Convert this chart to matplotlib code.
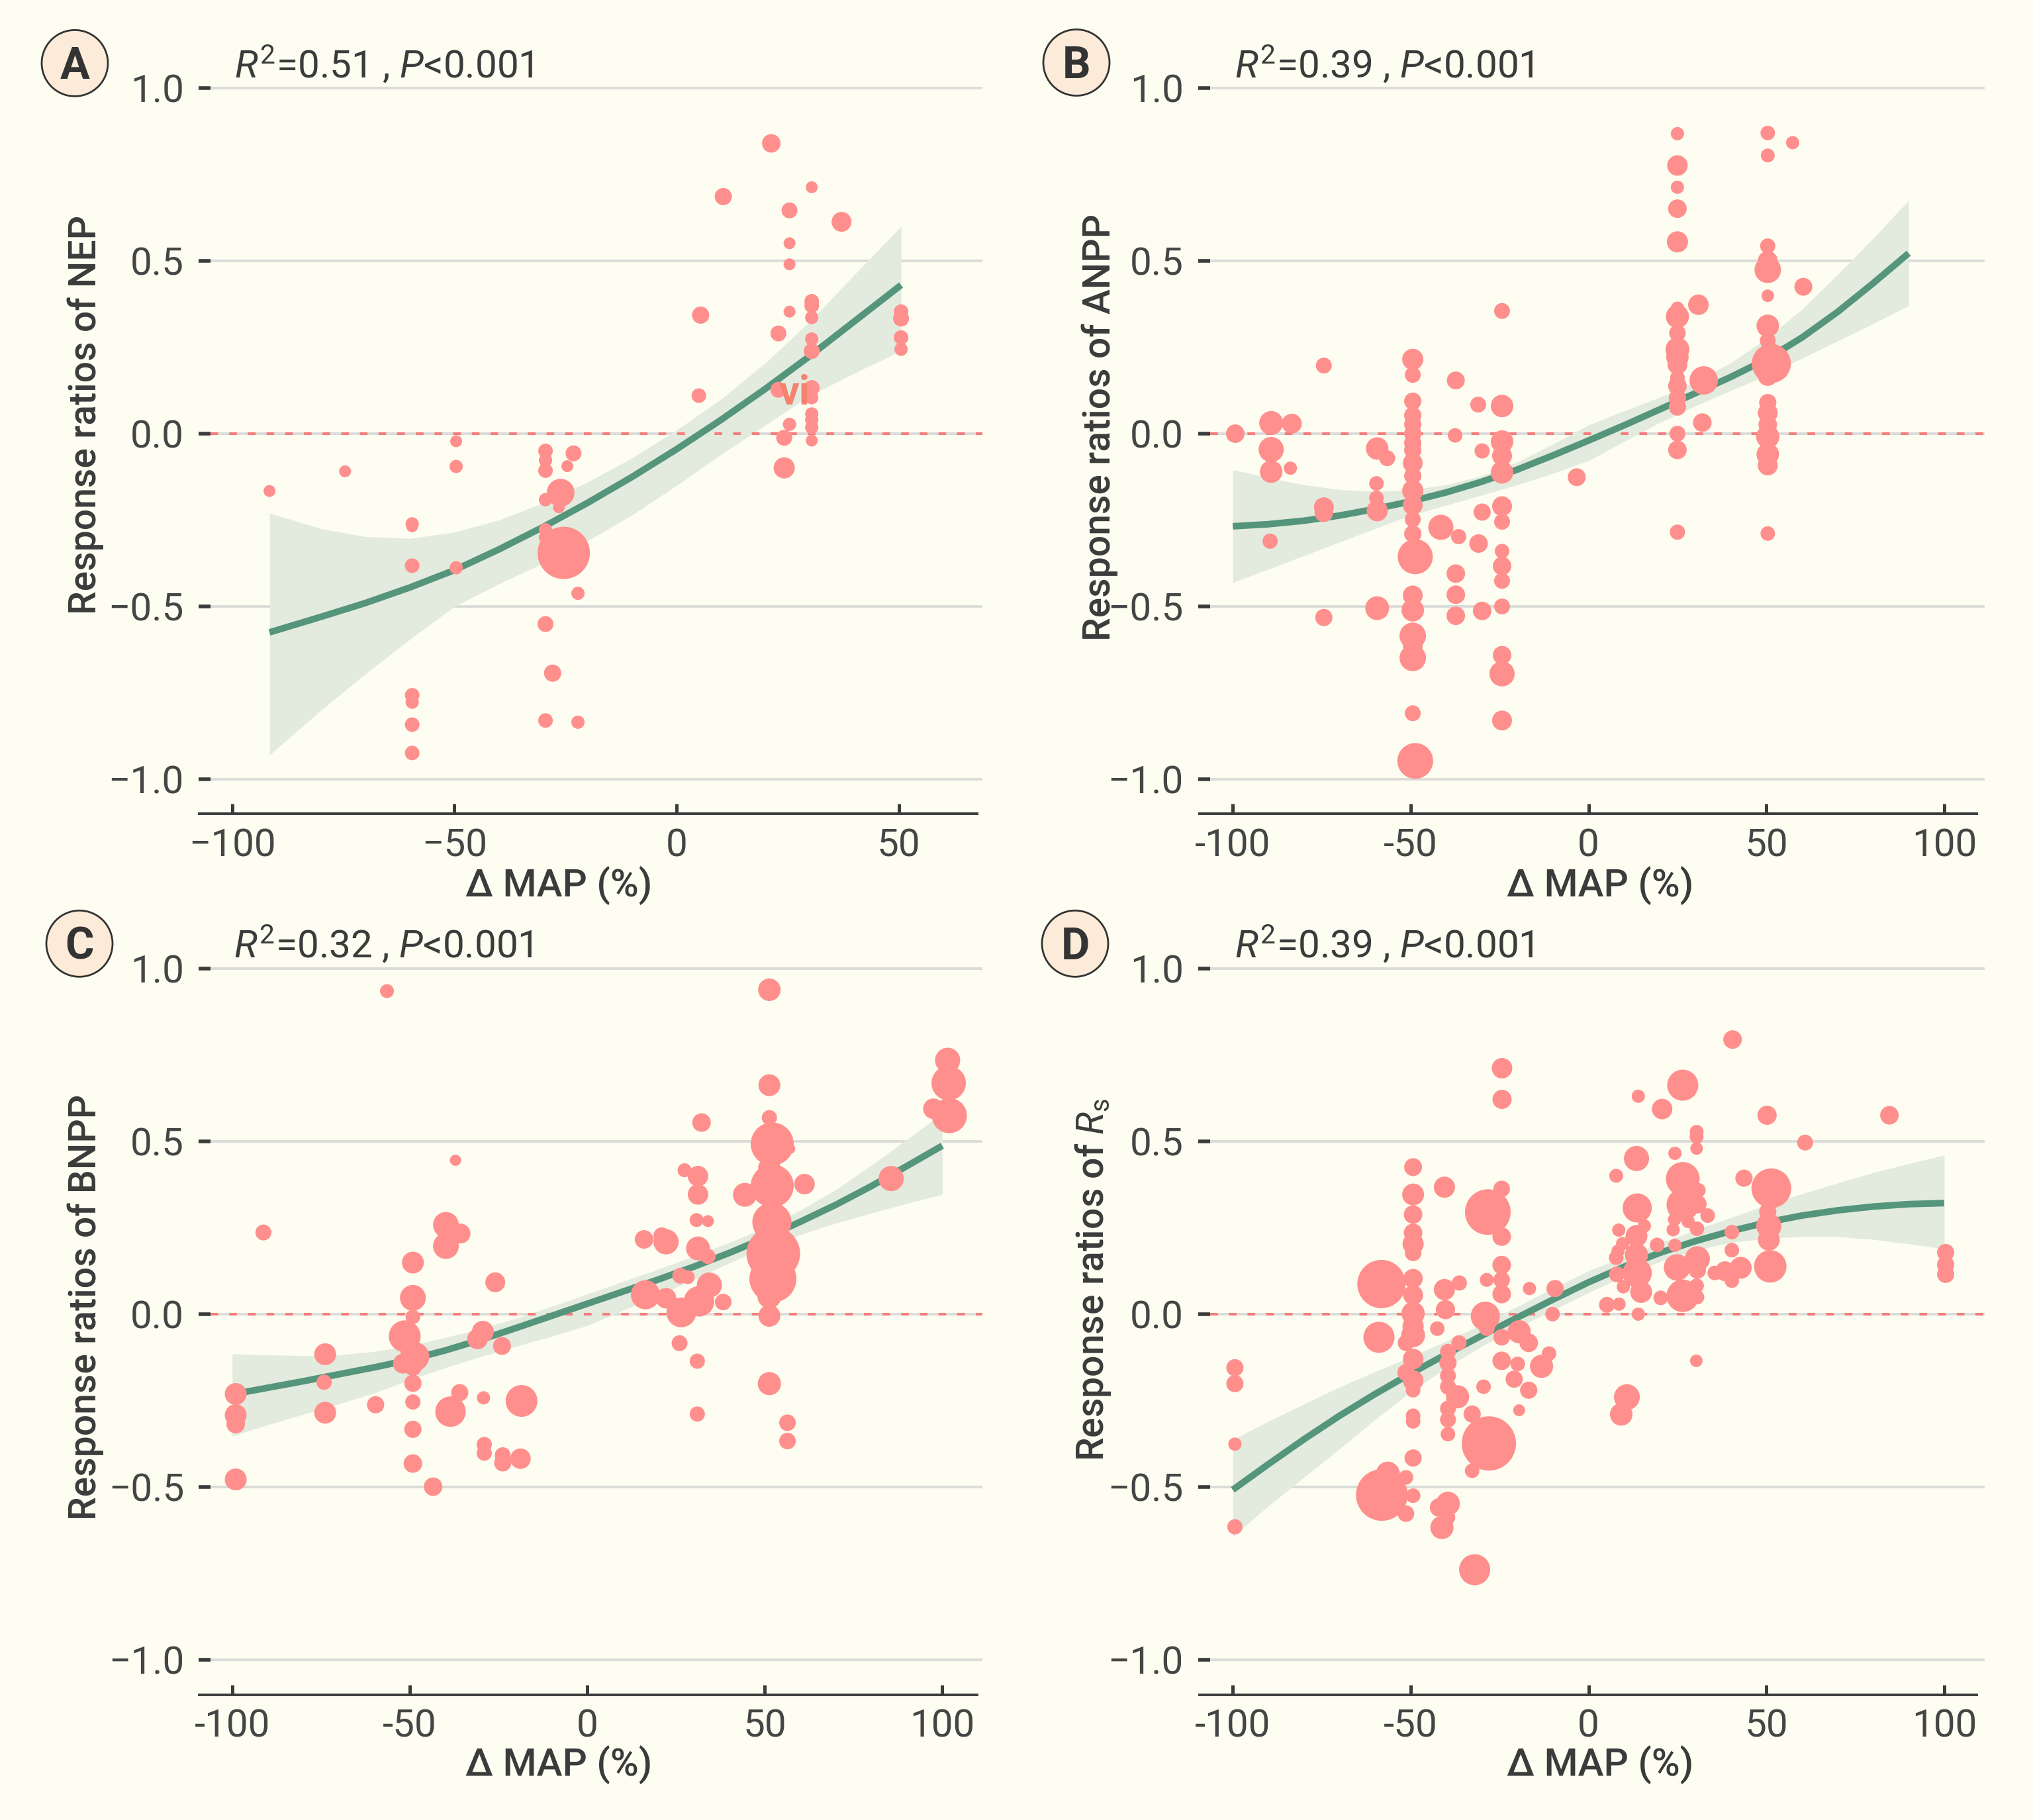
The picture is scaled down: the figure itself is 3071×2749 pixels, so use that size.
import numpy as np
import matplotlib
matplotlib.use("Agg")
import matplotlib.pyplot as plt
from matplotlib.patches import Circle

plt.rcParams['font.family'] = ['Roboto', 'DejaVu Sans']
plt.rcParams['mathtext.fontset'] = 'custom'
plt.rcParams['mathtext.rm'] = 'Roboto'
plt.rcParams['mathtext.it'] = 'Roboto:italic'
plt.rcParams['mathtext.bf'] = 'Roboto:bold'

# ---------------- data ----------------
y_ticks = [-1.0, -0.5, 0.0, 0.5, 1.0]
y_ticklabels = ["\u22121.0", "\u22120.5", "0.0", "0.5", "1.0"]
a_xticks = [-100, -50, 0, 50]
a_xticklabels = ["\u2212100", "\u221250", "0", "50"]
xticks = [-100, -50, 0, 50, 100]
xticklabels = ["-100", "-50", "0", "50", "100"]

panel_letters = ["A", "B", "C", "D"]
stats_text = [r"$R^{2}$=0.51 , $P$<0.001", r"$R^{2}$=0.39 , $P$<0.001",
              r"$R^{2}$=0.32 , $P$<0.001", r"$R^{2}$=0.39 , $P$<0.001"]
y_titles = ["Response ratios of NEP", "Response ratios of ANPP",
            "Response ratios of BNPP", r"Response ratios of $R_{\mathrm{s}}$"]
x_title = "\u0394 MAP (%)"

# Panel A (NEP)
a_x = [-91.6, -74.6, -59.5, -59.5, -59.5, -59.5, -59.5, -59.5, -59.5,
       -49.6, -49.6, -49.6,
       -29.5, -29.5, -29.5, -29.5, -29.5, -29.5, -29.5, -29.5,
       -26.1, -26.5, -25.4, -23.2, -24.6, -22.2, -27.9, -22.2,
       5.4, 5.0, 10.5, 21.3, 22.9, 22.9, 24.2, 24.2,
       25.4, 25.4, 25.4, 25.4, 25.4,
       30.4, 30.4, 30.4, 30.4, 30.4, 30.4, 30.4, 30.4, 30.4, 30.4, 30.4, 30.4,
       37.1, 50.5, 50.5, 50.5, 50.5]
a_y = [-0.166, -0.109, -0.261, -0.268, -0.382, -0.757, -0.777, -0.842, -0.924,
       -0.022, -0.095, -0.388,
       -0.050, -0.077, -0.107, -0.191, -0.278, -0.300, -0.551, -0.830,
       -0.171, -0.213, -0.345, -0.057, -0.094, -0.462, -0.693, -0.835,
       0.343, 0.110, 0.686, 0.840, 0.290, 0.127, -0.012, -0.099,
       0.646, 0.551, 0.490, 0.353, 0.027,
       0.713, 0.383, 0.370, 0.336, 0.274, 0.239, 0.132, 0.104, 0.057, 0.040, 0.018, -0.020,
       0.613, 0.353, 0.333, 0.278, 0.244]
a_w = [1.8, 1.8, 2.0, 1.8, 2.2, 2.2, 2.0, 2.2, 2.2,
       1.8, 2.0, 2.0,
       2.2, 2.0, 2.2, 2.0, 2.0, 2.0, 2.4, 2.2,
       4.2, 1.8, 7.9, 2.4, 1.8, 2.0, 2.6, 2.0,
       2.6, 2.2, 2.6, 2.8, 2.4, 2.4, 2.4, 3.2,
       2.4, 1.8, 1.8, 1.8, 2.0,
       1.8, 2.2, 2.2, 2.0, 2.0, 2.4, 2.4, 2.0, 2.0, 2.0, 2.0, 1.8,
       3.0, 2.2, 2.4, 2.2, 2.0]
a_cx = [-91.6, -80, -70, -60, -50, -40, -30, -20, -10, 0, 10, 20, 30, 40, 50.5]
a_cy = [-0.575, -0.53, -0.49, -0.445, -0.395, -0.335, -0.27, -0.20, -0.125, -0.045,
        0.04, 0.13, 0.225, 0.325, 0.43]
a_hi = [-0.23, -0.275, -0.298, -0.303, -0.285, -0.25, -0.20, -0.14, -0.07, 0.01,
        0.10, 0.205, 0.325, 0.46, 0.60]
a_lo = [-0.93, -0.80, -0.695, -0.595, -0.50, -0.435, -0.375, -0.31, -0.235, -0.15,
        -0.06, 0.025, 0.11, 0.175, 0.24]

# Panel B (ANPP)
b_x = ([-99.3, -89.2, -83.4, -89.2, -89.2, -83.8, -89.5,
        -74.4, -74.4, -74.4, -74.4,
        -59.4, -56.6, -59.6, -59.6, -59.4, -59.4]
       + [-49.4] * 20 + [-48.7, -48.7]
       + [-37.3, -37.5, -41.5, -36.5, -37.3, -37.3, -37.3,
          -31.0, -29.9, -29.9, -30.9, -29.9]
       + [-24.3] * 14 + [-3.3] + [25.0] * 18 + [30.9, 32.4, 32.0]
       + [50.4] * 16 + [51.4, 57.4, 60.4])
b_y = [0.0, 0.031, 0.029, -0.046, -0.110, -0.100, -0.311,
       0.197, -0.213, -0.229, -0.532,
       -0.043, -0.071, -0.144, -0.186, -0.223, -0.505,
       0.215, 0.170, 0.094, 0.053, 0.027, 0.0, -0.027, -0.048, -0.085, -0.122,
       -0.165, -0.207, -0.248, -0.29, -0.468, -0.511, -0.585, -0.612, -0.649, -0.809,
       -0.356, -0.947,
       0.154, -0.005, -0.271, -0.298, -0.405, -0.466, -0.527,
       0.084, -0.050, -0.227, -0.318, -0.513,
       0.355, 0.080, -0.023, -0.064, -0.112, -0.210, -0.255, -0.340, -0.383, -0.426,
       -0.500, -0.641, -0.695, -0.830,
       -0.126,
       0.868, 0.776, 0.713, 0.651, 0.555, 0.363, 0.339, 0.291, 0.244, 0.222, 0.200,
       0.162, 0.138, 0.103, 0.077, 0.0, -0.047, -0.285,
       0.373, 0.154, 0.032,
       0.870, 0.805, 0.543, 0.500, 0.474, 0.399, 0.312, 0.269, 0.167, 0.090, 0.060,
       0.026, -0.009, -0.060, -0.092, -0.289,
       0.203, 0.842, 0.425]
b_w = [2.8, 3.6, 3.0, 3.8, 3.4, 2.0, 2.3,
       2.4, 3.0, 2.8, 2.6,
       3.4, 2.4, 2.2, 2.2, 3.2, 3.6,
       3.2, 2.4, 2.6, 2.6, 2.6, 2.6, 2.6, 2.6, 3.0, 2.6,
       3.2, 3.0, 2.4, 2.6, 3.0, 3.4, 4.0, 3.0, 4.0, 2.4,
       5.3, 5.4,
       2.7, 2.2, 3.8, 2.3, 2.8, 2.8, 2.8,
       2.4, 2.3, 2.6, 2.8, 2.8,
       2.4, 3.4, 3.4, 3.0, 3.4, 3.0, 2.4, 2.2, 2.8, 2.4,
       2.4, 2.8, 3.8, 3.0,
       2.7,
       2.0, 3.1, 2.0, 2.8, 3.2, 2.0, 3.5, 2.5, 3.6, 3.4, 3.0,
       2.2, 2.8, 2.6, 2.6, 2.4, 2.8, 2.3,
       3.1, 4.3, 2.8,
       2.2, 2.1, 2.3, 3.0, 4.0, 1.9, 3.4, 2.4, 3.0, 2.6, 3.0,
       2.8, 3.5, 3.4, 3.0, 2.2,
       5.9, 2.0, 2.7]
b_cx = [-100, -90, -80, -70, -60, -50, -40, -30, -20, -10, 0, 10, 20, 30, 40, 50, 60, 70, 80, 90]
b_cy = [-0.268, -0.262, -0.252, -0.237, -0.218, -0.196, -0.170, -0.139, -0.104, -0.063,
        -0.020, 0.024, 0.070, 0.117, 0.164, 0.215, 0.278, 0.352, 0.435, 0.522]
b_hi = [-0.104, -0.128, -0.148, -0.162, -0.167, -0.163, -0.148, -0.122, -0.082, -0.030,
        0.025, 0.066, 0.105, 0.150, 0.205, 0.275, 0.360, 0.460, 0.565, 0.675]
b_lo = [-0.431, -0.392, -0.353, -0.314, -0.275, -0.236, -0.207, -0.178, -0.148, -0.115,
        -0.078, -0.023, 0.032, 0.08, 0.125, 0.168, 0.218, 0.268, 0.318, 0.37]

# Panel C (BNPP)
c_x = [-56.4, -91.2, -99.0, -99.0, -99.0, -99.0, -73.8, -74.1, -73.8, -59.6,
       -49.1, -49.1, -49.1, -51.4, -48.6, -51.9, -49.1, -49.1, -49.1, -49.1, -49.1,
       -37.1, -39.8, -35.7, -39.8, -25.9, -29.4, -30.9, -24.0, -35.9, -38.5, -29.2,
       -18.5, -29.0, -29.0, -23.8, -23.8, -18.8, -43.4,
       51.3, 51.3, 51.3, 52.1, 57.2, 51.3, 52.1, 44.4, 61.2, 52.0, 52.4, 52.3,
       51.3, 51.3, 51.3, 56.4, 56.4,
       32.2, 27.4, 31.2, 31.2, 30.8, 34.0, 16.0, 21.0, 22.2, 31.2, 34.0, 26.2, 28.3,
       16.4, 22.2, 26.5, 31.5, 34.4, 38.3, 26.0, 31.0, 31.0,
       85.6, 101.5, 101.8, 97.5, 102.0]
c_y = [0.934, 0.236, -0.231, -0.292, -0.318, -0.478, -0.116, -0.197, -0.285, -0.262,
       0.149, 0.047, -0.008, -0.064, -0.123, -0.143, -0.154, -0.200, -0.254, -0.333, -0.432,
       0.445, 0.258, 0.233, 0.197, 0.092, -0.051, -0.072, -0.092, -0.227, -0.282, -0.242,
       -0.251, -0.377, -0.402, -0.408, -0.430, -0.418, -0.499,
       0.938, 0.662, 0.568, 0.492, 0.478, 0.422, 0.371, 0.345, 0.376, 0.266, 0.175, 0.102,
       0.051, -0.005, -0.201, -0.314, -0.367,
       0.554, 0.416, 0.399, 0.346, 0.272, 0.269, 0.216, 0.227, 0.209, 0.190, 0.167, 0.111, 0.107,
       0.056, 0.046, 0.005, 0.037, 0.084, 0.035, -0.084, -0.136, -0.289,
       0.392, 0.734, 0.668, 0.594, 0.574]
c_w = [2.1, 2.4, 3.3, 3.3, 2.8, 3.3, 3.3, 2.3, 3.3, 2.6,
       3.3, 3.9, 2.2, 4.8, 4.4, 3.0, 2.6, 2.6, 2.3, 2.6, 2.8,
       1.7, 3.9, 3.0, 3.9, 3.0, 3.3, 3.1, 2.7, 2.6, 4.6, 2.0,
       4.8, 2.3, 2.3, 2.4, 2.6, 3.1, 2.8,
       3.4, 3.3, 2.3, 6.5, 1.5, 3.4, 6.5, 3.6, 3.1, 5.9, 8.1, 7.1,
       3.6, 3.3, 3.5, 2.5, 2.5,
       2.8, 2.1, 3.1, 3.1, 2.1, 1.8, 2.8, 2.5, 3.8, 3.6, 2.3, 2.4, 2.1,
       4.4, 3.1, 4.5, 4.6, 3.8, 2.5, 2.4, 2.3, 2.3,
       3.8, 3.8, 5.2, 3.1, 5.3]
c_cx = [-100, -90, -80, -70, -60, -50, -40, -30, -20, -10, 0, 10, 20, 30, 40, 50, 60, 70, 80, 90, 100]
c_cy = [-0.232, -0.213, -0.194, -0.174, -0.154, -0.132, -0.105, -0.074, -0.040, -0.005, 0.03,
        0.065, 0.10, 0.137, 0.177, 0.22, 0.267, 0.316, 0.370, 0.428, 0.487]
c_hi = [-0.115, -0.118, -0.12, -0.118, -0.108, -0.091, -0.068, -0.042, -0.012, 0.022, 0.058,
        0.094, 0.13, 0.167, 0.207, 0.25, 0.30, 0.36, 0.43, 0.505, 0.58]
c_lo = [-0.353, -0.32, -0.29, -0.26, -0.228, -0.19, -0.155, -0.123, -0.093, -0.064, -0.033,
        0.01, 0.055, 0.1, 0.148, 0.192, 0.23, 0.263, 0.292, 0.32, 0.346]

# Panel D (Rs)
d_x = ([-99.4, -99.4, -99.4, -99.4, -58.2, -58.9, -58.1, -56.4, -51.3, -49.3, -51.3]
       + [-49.3] * 17
       + [-51.3, -51.3, -40.5, -40.5, -36.3, -40.2, -42.5, -36.4]
       + [-39.5] * 9
       + [-36.8, -42.0, -41.2, -32.0, -28.3, -24.4, -24.3, -24.3, -24.4, -24.4, -24.4, -24.4,
          -28.6, -29.0, -28.6, -24.4, -24.4, -19.5, -16.8, -19.9, -20.9, -16.8, -19.5,
          -16.6, -9.4, -10.1, -11.1, -13.2, -29.5, -32.7, -28.0, -32.7]
       + [40.5, 26.5, 14.0, 20.7, 50.2, 84.6, 60.9, 30.4, 30.4, 30.4, 24.3, 13.5, 7.8,
          26.5, 43.7, 51.4, 30.9, 13.7, 26.5, 30.6, 33.5, 24.2, 28.0, 30.5, 23.8, 15.7,
          8.5, 13.5, 9.6, 8.3, 7.8, 19.3, 24.3, 40.3, 40.3, 50.4, 50.7, 50.7, 51.1,
          13.5, 13.7, 8.0, 9.8, 14.8, 30.6, 24.9, 30.6, 35.5, 38.4, 42.8, 40.3,
          26.5, 30.4, 30.5, 20.3, 5.2, 8.6, 14.0, 30.3, 100.4, 100.4, 100.4, 10.8, 9.2])
d_y = [-0.155, -0.201, -0.376, -0.615, 0.087, -0.067, -0.523, -0.461, -0.472, -0.525, -0.577,
       0.425, 0.346, 0.288, 0.235, 0.203, 0.177, 0.103, 0.055, 0.002, -0.035, -0.061,
       -0.130, -0.192, -0.220, -0.294, -0.310, -0.416,
       -0.083, -0.169, 0.367, 0.071, 0.090, 0.013, -0.042, -0.083,
       -0.109, -0.141, -0.178, -0.21, -0.273, -0.305, -0.347, -0.548, -0.588,
       -0.239, -0.559, -0.617, -0.739, 0.295, 0.362, 0.711, 0.621, 0.224, 0.142, 0.099, 0.058,
       0.099, -0.006, -0.040, -0.067, -0.135, -0.051, -0.083, -0.144, -0.188, -0.220, -0.278,
       0.074, 0.074, 0.0, -0.114, -0.151, -0.210, -0.289, -0.374, -0.453,
       0.794, 0.662, 0.630, 0.593, 0.575, 0.575, 0.496, 0.527, 0.513, 0.479, 0.465, 0.450, 0.400,
       0.391, 0.393, 0.364, 0.358, 0.307, 0.316, 0.318, 0.285, 0.274, 0.268, 0.247, 0.244, 0.255,
       0.243, 0.226, 0.204, 0.182, 0.163, 0.200, 0.199, 0.237, 0.185, 0.296, 0.255, 0.215, 0.138,
       0.171, 0.119, 0.115, 0.079, 0.064, 0.160, 0.135, 0.127, 0.119, 0.124, 0.134, 0.097,
       0.053, 0.082, 0.049, 0.047, 0.027, 0.029, 0.0, -0.135, 0.178, 0.143, 0.115, -0.240, -0.290]
d_w = [2.6, 2.6, 2.0, 2.3, 7.3, 4.7, 7.8, 3.6, 2.2, 2.2, 2.5,
       2.7, 3.3, 2.8, 2.8, 3.2, 2.5, 2.9, 3.0, 3.5, 3.2, 3.6,
       3.1, 3.1, 2.2, 2.2, 2.2, 2.6,
       2.5, 2.6, 3.2, 3.2, 2.3, 2.9, 2.2, 2.3,
       2.4, 2.6, 2.4, 2.4, 2.4, 2.4, 2.2, 3.6, 2.2,
       3.5, 2.8, 3.5, 4.7, 6.9, 2.5, 3.1, 2.9, 2.8, 2.8, 2.5, 2.8,
       2.1, 4.4, 2.4, 2.5, 2.8, 3.5, 2.8, 2.2, 2.6, 2.6, 1.8,
       2.0, 2.6, 2.2, 2.2, 3.5, 2.2, 2.6, 8.2, 2.2,
       2.8, 4.7, 2.0, 3.1, 2.9, 2.8, 2.4, 2.1, 2.1, 1.9, 2.0, 3.8, 2.1,
       5.1, 2.6, 6.0, 2.2, 4.4, 4.9, 2.8, 2.2, 2.0, 2.0, 2.2, 2.0, 2.0,
       2.0, 3.3, 2.0, 2.0, 2.2, 2.2, 2.0, 2.2, 2.2, 2.6, 3.8, 3.3, 4.9,
       3.5, 4.4, 2.4, 2.0, 3.3, 3.8, 4.0, 2.6, 2.2, 3.0, 3.3, 2.2,
       4.9, 2.2, 2.2, 2.2, 2.4, 2.0, 2.0, 1.9, 2.6, 2.6, 2.6, 3.9, 3.4]
d_cx = [-100, -90, -80, -70, -60, -50, -40, -30, -20, -10, 0, 10, 20, 30, 40, 50, 60, 70, 80, 90, 100]
d_cy = [-0.508, -0.434, -0.362, -0.294, -0.231, -0.172, -0.116, -0.062, -0.010, 0.042, 0.092,
        0.137, 0.177, 0.211, 0.240, 0.265, 0.285, 0.300, 0.311, 0.318, 0.321]
d_hi = [-0.363, -0.31, -0.26, -0.211, -0.166, -0.124, -0.078, -0.030, 0.022, 0.075, 0.125,
        0.166, 0.205, 0.243, 0.279, 0.315, 0.348, 0.379, 0.409, 0.435, 0.46]
d_lo = [-0.643, -0.555, -0.472, -0.39, -0.305, -0.225, -0.155, -0.093, -0.04, 0.012, 0.062,
        0.11, 0.152, 0.185, 0.207, 0.219, 0.224, 0.224, 0.216, 0.203, 0.189]

# ---------------- style ----------------
BG = '#FEFDF1'
PT = '#FF8F8D'
LINE = '#55957C'
RIB = '#E3EBDE'
GRID = '#DCDDDA'
DARK = '#3B3B3B'
TICKC = '#454545'
ZERO = '#F47E7C'

W, H = 3071, 2749
fig = plt.figure(figsize=(W / 200, H / 200), dpi=200, facecolor=BG)


def rect(l, r, t, b):
    return [l / W, 1 - b / H, (r - l) / W, (b - t) / H]


panels = [
    dict(rect=rect(318, 1484, 80.8, 1229.2), xlim=(-104.87, 68.8), bounds=(-107.4, 67.6),
         xt=a_xticks, xtl=a_xticklabels, x=a_x, y=a_y, w=a_w, cx=a_cx, cy=a_cy, lo=a_lo, hi=a_hi),
    dict(rect=rect(1828, 2997.6, 80.8, 1229.2), xlim=(-106.36, 111.3), bounds=(-109.3, 109.1),
         xt=xticks, xtl=xticklabels, x=b_x, y=b_y, w=b_w, cx=b_cx, cy=b_cy, lo=b_lo, hi=b_hi),
    dict(rect=rect(318.4, 1484.1, 1410.3, 2559.5), xlim=(-106.02, 111.32), bounds=(-109.3, 109.9),
         xt=xticks, xtl=xticklabels, x=c_x, y=c_y, w=c_w, cx=c_cx, cy=c_cy, lo=c_lo, hi=c_hi),
    dict(rect=rect(1828, 2997.6, 1410.3, 2559.5), xlim=(-106.36, 111.3), bounds=(-109.3, 109.1),
         xt=xticks, xtl=xticklabels, x=d_x, y=d_y, w=d_w, cx=d_cx, cy=d_cy, lo=d_lo, hi=d_hi),
]

letter_pos = [(113, 95.4), (1626, 94.5), (120, 1425.3), (1624, 1425.3)]
ylab_pos = [(129, 627), (1661, 646), (129, 1974.5), (1651, 1933)]
xlab_pos = [(844, 1338), (2417, 1338), (844, 2666), (2417, 2666)]

axes = []
for i, p in enumerate(panels):
    ax = fig.add_axes(p['rect'])
    ax.set_facecolor('none')
    ax.set_xlim(*p['xlim'])
    ax.set_ylim(-1.1, 1.1)
    ax.set_yticks(y_ticks)
    ax.set_yticklabels(y_ticklabels)
    ax.set_xticks(p['xt'])
    ax.set_xticklabels(p['xtl'])
    ax.yaxis.grid(True, color=GRID, lw=1.45, zorder=0)
    ax.xaxis.grid(False)
    ax.set_axisbelow(True)
    for s in ['left', 'top', 'right']:
        ax.spines[s].set_visible(False)
    ax.spines['bottom'].set_color(DARK)
    ax.spines['bottom'].set_linewidth(1.4)
    ax.spines['bottom'].set_bounds(*p['bounds'])
    ax.tick_params(axis='y', direction='out', length=6.5, width=2.0, color=DARK,
                   pad=8.0, labelsize=21, labelcolor=TICKC)
    ax.tick_params(axis='x', direction='in', length=5.4, width=1.8, color=DARK,
                   pad=7.5, labelsize=21, labelcolor=TICKC)

    ax.fill_between(p['cx'], p['lo'], p['hi'], color=RIB, lw=0, zorder=1)
    ax.axhline(0, color=ZERO, lw=1.45, ls=(0, (2.9, 4.1)), zorder=1.5)
    ax.plot(p['cx'], p['cy'], color=LINE, lw=3.6, zorder=2, solid_capstyle='butt',
            solid_joinstyle='round')
    sizes = (np.asarray(p['w']) * 3.6) ** 2
    ax.scatter(p['x'], p['y'], s=sizes, color=PT, lw=0, zorder=3, clip_on=False)

    ax.text(-99.5, 1.03, stats_text[i], ha='left', va='baseline', fontsize=21, color=DARK)
    axes.append(ax)

    # panel letter
    cxp, cyp = letter_pos[i]
    fig.patches.append(Circle((cxp / 200, (H - cyp) / 200), 50 / 200,
                              transform=fig.dpi_scale_trans, facecolor='#FCEBD9',
                              edgecolor='#333333', lw=1.0, zorder=5))
    fig.text(cxp / W, 1 - (cyp + 23.5) / H, panel_letters[i], ha='center', va='baseline',
             fontsize=24, fontweight='bold', color='#333333', zorder=6)

    # axis titles
    yx, yy = ylab_pos[i]
    fig.text(yx / W, 1 - yy / H, y_titles[i], rotation=90, ha='center', va='center',
             fontsize=20.5, fontweight='medium', color=DARK)
    xx, xy = xlab_pos[i]
    fig.text(xx / W, 1 - xy / H, x_title, ha='center', va='center',
             fontsize=21, fontweight='medium', color=DARK)

# stray label in panel A
axes[0].text(26.5, 0.085, "vi", ha='center', va='baseline', fontsize=22,
             fontweight='bold', color='#F2836F', zorder=3.5)

fig.savefig("out.png", dpi=200, facecolor=BG)
